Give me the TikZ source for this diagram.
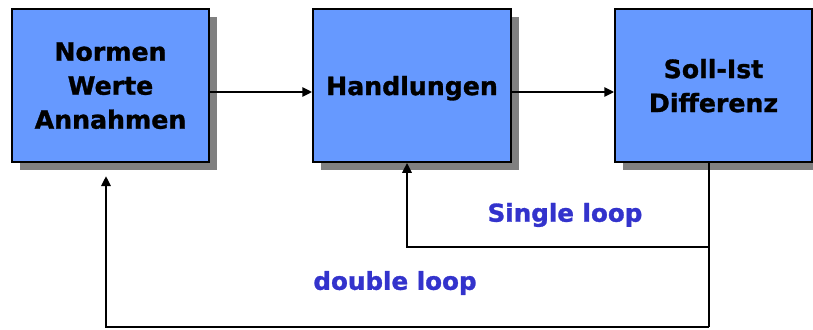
\documentclass[tikz,border=0pt]{standalone}
\usepackage{fontspec}
\setmainfont{DejaVu Sans}
\newfontfamily\heavyfont[FakeBold=1.2]{DejaVu Sans Bold}
\usetikzlibrary{arrows.meta,shadows}
\definecolor{boxblue}{HTML}{6699FF}
\definecolor{shadowgray}{HTML}{808080}
\definecolor{labelblue}{HTML}{3333CC}
\tikzset{
  blockbox/.style={draw=black, line width=1.5pt, fill=boxblue, minimum height=153pt,
    align=center, inner sep=0pt, text depth=0pt, font=\heavyfont\fontsize{25.2}{34}\selectfont,
    general shadow={fill=shadowgray, shadow xshift=8pt, shadow yshift=-8pt}},
  conn/.style={line width=2.8pt, draw=black},
  arr/.style={conn, -{Triangle[length=10pt,width=9pt]}},
  looplabel/.style={text=labelblue, font=\heavyfont\fontsize{24.6}{28}\selectfont, inner sep=0pt}
}
\begin{document}
\begin{tikzpicture}[x=1pt,y=-1pt]
\useasboundingbox (0,0) rectangle (813,329);
\node[blockbox, minimum width=197pt] (b1) at (110.5,85.5) {Normen\\Werte\\Annahmen};
\node[blockbox, minimum width=198pt] (b2) at (412,85.5) {Handlungen};
\node[blockbox, minimum width=197pt] (b3) at (713.5,85.5) {Soll-Ist\\Differenz};
\draw[arr] ([yshift=-6.5pt]b1.east) -- ([yshift=-6.5pt]b2.west);
\draw[arr] ([yshift=-6.5pt]b2.east) -- ([yshift=-6.5pt]b3.west);
\coordinate (s) at (709,247);
\coordinate (sl) at (407,247);
\coordinate (d) at (709,327);
\coordinate (dl) at (106,327);
\coordinate (dt) at (106,176);
\draw[conn] (b3.south -| d) -- (d);
\draw[arr] (s) -- (sl) -- (b2.south -| sl);
\draw[arr] (d) -- (dl) -- (dt);
\node[looplabel] (l1) at (565,215) {Single loop};
\node[looplabel] (l2) at (395,283) {double loop};
\end{tikzpicture}
\end{document}
